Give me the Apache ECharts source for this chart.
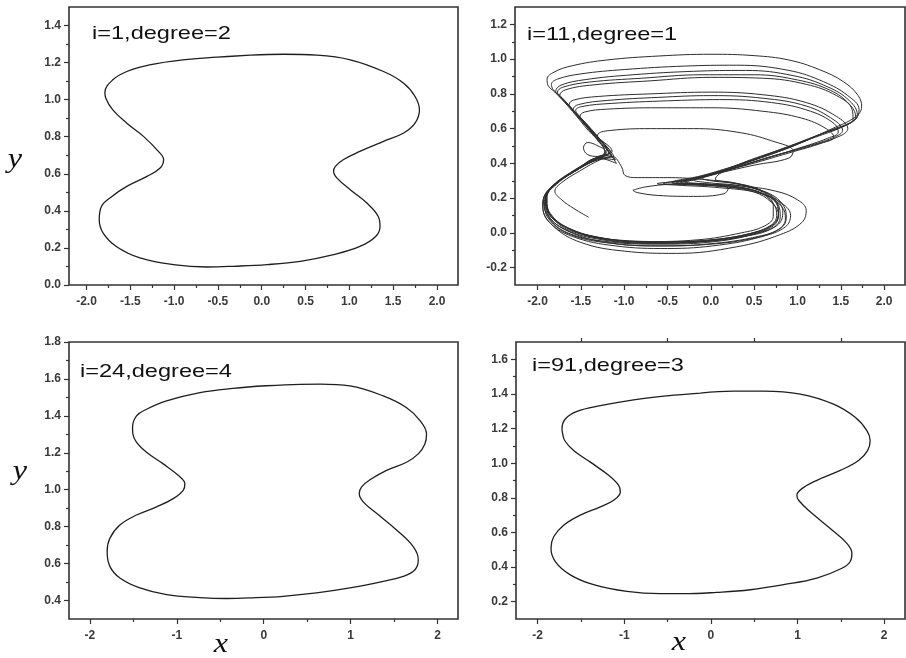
<!DOCTYPE html>
<html>
<head>
<meta charset="utf-8">
<script src="https://cdn.jsdelivr.net/npm/echarts@6/dist/echarts.min.js"></script>
<style>
  html, body { margin: 0; padding: 0; background: #fff; }
  #chart { width: 906px; height: 658px; }
</style>
</head>
<body>
<div id="chart"></div>
<script>
// Phase portraits (x, y) for four runs.

// i=1, degree=2 : closed orbit
const loopI1 = [
  [-0.13,1.240],[0.25,1.245],[0.63,1.240],[1.01,1.215],[1.39,1.152],[1.62,1.089],[1.75,1.017],[1.80,0.945],
  [1.75,0.873],[1.62,0.820],[1.39,0.775],[1.12,0.721],[0.93,0.676],[0.84,0.640],[0.82,0.613],[0.86,0.577],
  [1.01,0.514],[1.20,0.442],[1.33,0.370],[1.35,0.316],[1.30,0.262],[1.12,0.208],[0.82,0.164],[0.44,0.128],
  [0.06,0.110],[-0.32,0.101],[-0.63,0.097],[-1.01,0.110],[-1.39,0.146],[-1.66,0.208],[-1.81,0.280],[-1.855,0.352],
  [-1.83,0.424],[-1.71,0.478],[-1.54,0.532],[-1.31,0.586],[-1.16,0.631],[-1.12,0.676],[-1.18,0.721],[-1.35,0.802],
  [-1.54,0.873],[-1.70,0.945],[-1.78,1.008],[-1.79,1.040],[-1.70,1.107],[-1.54,1.152],[-1.28,1.188],[-0.90,1.215],
  [-0.51,1.229],[-0.13,1.240]
];

// i=11, degree=1 : irregular trajectory
const orbitI11 = [
  [-1.41,0.09],[-1.58,0.14],[-1.72,0.19],[-1.80,0.24],[-1.72,0.29],[-1.50,0.36],[-1.28,0.42],[-1.14,0.44],
  [-1.03,0.38],[-0.99,0.33],[-0.85,0.318],[-0.50,0.318],[-0.15,0.31],[0.20,0.29],[0.50,0.255],[0.70,0.20],
  [0.78,0.13],[0.74,0.06],[0.55,0.01],[0.10,-0.035],[-0.50,-0.05],[-1.10,-0.04],[-1.55,0.00],[-1.82,0.08],
  [-1.90,0.18],[-1.82,0.27],[-1.55,0.36],[-1.30,0.43],[-1.17,0.46],
  [-1.24,0.50],[-1.31,0.54],[-1.30,0.57],[-1.15,0.59],[-0.70,0.60],[-0.20,0.60],[0.30,0.58],[0.70,0.53],[0.95,0.47],
  [0.90,0.43],[0.50,0.39],[0.10,0.345],[-0.25,0.305],[-0.45,0.29],[-0.20,0.283],[0.20,0.27],[0.55,0.235],
  [0.72,0.17],[0.76,0.10],[0.68,0.04],[0.40,-0.01],[-0.10,-0.045],[-0.70,-0.055],[-1.25,-0.03],[-1.65,0.03],
  [-1.85,0.11],[-1.90,0.20],[-1.78,0.28],[-1.52,0.37],[-1.28,0.44],[-1.14,0.47],
  [-1.30,0.55],[-1.46,0.64],[-1.51,0.67],[-1.46,0.695],[-1.20,0.712],[-0.60,0.72],[0.00,0.72],[0.60,0.70],[1.05,0.66],
  [1.33,0.60],[1.42,0.55],[1.30,0.52],[0.90,0.46],[0.45,0.395],[0.05,0.345],[-0.30,0.305],[-0.55,0.285],
  [-0.30,0.278],[0.15,0.265],[0.50,0.235],[0.70,0.175],[0.78,0.105],[0.72,0.04],[0.45,-0.01],[-0.05,-0.05],
  [-0.65,-0.06],[-1.20,-0.04],[-1.62,0.02],[-1.86,0.11],[-1.91,0.20],[-1.80,0.28],[-1.55,0.36],[-1.32,0.43],
  [-1.12,0.44],
  [-1.30,0.55],[-1.48,0.64],[-1.60,0.71],[-1.635,0.74],[-1.58,0.765],[-1.30,0.785],[-0.70,0.80],[0.00,0.81],[0.60,0.795],
  [1.10,0.75],[1.45,0.67],[1.58,0.60],[1.50,0.56],[1.15,0.50],[0.70,0.44],[0.20,0.36],[-0.15,0.31],
  [-0.30,0.293],[-0.10,0.283],[0.30,0.265],[0.62,0.22],[0.82,0.15],[0.86,0.08],[0.78,0.02],[0.50,-0.03],
  [0.00,-0.065],[-0.60,-0.075],[-1.20,-0.055],[-1.65,0.01],[-1.88,0.10],[-1.93,0.19],[-1.83,0.27],[-1.58,0.36],
  [-1.33,0.43],[-1.22,0.46],
  [-1.45,0.61],[-1.65,0.73],[-1.80,0.81],[-1.88,0.85],[-1.89,0.885],[-1.81,0.925],[-1.60,0.962],[-1.20,0.995],[-0.60,1.018],
  [0.00,1.028],[0.50,1.02],[0.90,0.995],[1.25,0.94],[1.53,0.87],[1.70,0.79],[1.74,0.725],[1.66,0.665],
  [1.40,0.60],[0.95,0.50],[0.50,0.42],[0.10,0.35],[-0.20,0.305],[-0.35,0.29],[-0.10,0.283],[0.35,0.27],
  [0.75,0.24],[1.00,0.19],[1.10,0.13],[1.05,0.06],[0.80,-0.01],[0.30,-0.08],[-0.40,-0.118],[-1.00,-0.105],
  [-1.50,-0.055],[-1.82,0.04],[-1.94,0.15],[-1.90,0.23],[-1.72,0.31],[-1.45,0.39],[-1.22,0.46],
  [-1.35,0.56],[-1.55,0.68],[-1.74,0.785],[-1.82,0.825],[-1.84,0.855],[-1.77,0.885],[-1.50,0.915],[-1.00,0.94],[-0.30,0.96],
  [0.30,0.965],[0.90,0.935],[1.30,0.87],[1.58,0.79],[1.71,0.71],[1.66,0.65],[1.35,0.585],[0.90,0.49],
  [0.45,0.41],[0.05,0.345],[-0.35,0.30],[-0.62,0.283],[-0.40,0.275],[0.10,0.26],[0.55,0.23],[0.82,0.17],
  [0.92,0.10],[0.86,0.035],[0.60,-0.02],[0.10,-0.07],[-0.50,-0.09],[-1.10,-0.075],[-1.60,-0.02],[-1.88,0.07],
  [-1.94,0.17],[-1.86,0.25],[-1.62,0.34],[-1.37,0.41],[-1.15,0.45],
  [-1.40,0.59],[-1.60,0.71],[-1.74,0.785],[-1.79,0.815],[-1.73,0.85],[-1.45,0.882],[-0.90,0.91],[-0.20,0.93],[0.40,0.935],
  [0.95,0.905],[1.35,0.84],[1.60,0.76],[1.69,0.68],[1.62,0.635],[1.30,0.575],[0.85,0.485],[0.40,0.405],
  [0.00,0.34],[-0.20,0.305],[-0.05,0.29],[0.35,0.27],[0.68,0.225],[0.84,0.155],[0.87,0.085],[0.80,0.025],
  [0.55,-0.02],[0.05,-0.06],[-0.55,-0.075],[-1.15,-0.06],[-1.62,-0.01],[-1.87,0.08],[-1.92,0.18],[-1.84,0.26],
  [-1.60,0.35],[-1.35,0.42],[-1.20,0.47],
  [-1.40,0.60],[-1.60,0.715],[-1.72,0.78],[-1.77,0.81],[-1.71,0.838],[-1.40,0.868],[-0.80,0.89],[-0.10,0.91],[0.50,0.91],
  [1.00,0.88],[1.38,0.82],[1.60,0.74],[1.67,0.67],[1.58,0.625],[1.25,0.565],[0.80,0.48],[0.35,0.40],
  [0.10,0.34],[0.05,0.31],[0.25,0.29],[0.55,0.25],[0.76,0.19],[0.83,0.12],[0.78,0.05],[0.55,0.00],
  [0.05,-0.05],[-0.60,-0.065],[-1.20,-0.05],[-1.65,0.00],[-1.87,0.09],[-1.91,0.19],[-1.81,0.27],[-1.56,0.36],
  [-1.30,0.43],[-1.10,0.42],
  [-1.30,0.54],[-1.50,0.65],[-1.69,0.76],[-1.745,0.79],[-1.68,0.823],[-1.35,0.852],[-0.70,0.875],[0.00,0.895],[0.60,0.89],
  [1.10,0.855],[1.45,0.79],[1.63,0.71],[1.64,0.655],[1.52,0.61],[1.20,0.55],[0.75,0.47],[0.30,0.39],
  [-0.10,0.33],[-0.45,0.29],[-0.25,0.28],[0.20,0.265],[0.58,0.23],[0.78,0.16],[0.80,0.09],[0.72,0.03],
  [0.45,-0.015],[-0.10,-0.05],[-0.70,-0.06],[-1.25,-0.04],[-1.68,0.02],[-1.88,0.11],[-1.90,0.20],[-1.79,0.28],
  [-1.54,0.37],[-1.30,0.44],[-1.18,0.46],
  [-1.35,0.57],[-1.55,0.685],[-1.59,0.71],[-1.53,0.738],[-1.20,0.762],[-0.60,0.78],[0.00,0.79],[0.60,0.775],[1.10,0.73],
  [1.42,0.65],[1.52,0.59],[1.42,0.55],[1.05,0.49],[0.60,0.425],[0.15,0.355],[-0.10,0.315],[0.00,0.30],
  [0.35,0.28],[0.62,0.235],[0.76,0.17],[0.78,0.10],[0.70,0.04],[0.45,-0.005],[-0.05,-0.045],[-0.65,-0.055],
  [-1.20,-0.035],[-1.62,0.02],[-1.86,0.11],[-1.90,0.20],[-1.80,0.28],[-1.55,0.36],[-1.30,0.43],[-1.09,0.40],
  [-1.25,0.52],[-1.42,0.62],[-1.53,0.68],[-1.56,0.705],[-1.49,0.727],[-1.15,0.745],[-0.50,0.76],[0.10,0.767],[0.70,0.75],
  [1.15,0.70],[1.42,0.63],[1.47,0.58],[1.35,0.545],[1.00,0.485],[0.55,0.415],[0.10,0.35],[-0.25,0.305],
  [-0.40,0.29],[-0.15,0.282],[0.30,0.265],[0.60,0.225],[0.72,0.16],[0.72,0.095],[0.62,0.04],[0.35,0.00],
  [-0.15,-0.04],[-0.75,-0.05],[-1.30,-0.025],[-1.70,0.04],[-1.88,0.13],[-1.89,0.21],[-1.77,0.29],[-1.52,0.37],
  [-1.30,0.43],[-1.22,0.47],[-1.30,0.50],[-1.42,0.52],[-1.47,0.49],[-1.42,0.45],[-1.30,0.44],[-1.15,0.45]
];

// i=11 : small loop near the centre
const orbitI11Core = [
  [-0.90,0.245],[-0.75,0.265],[-0.40,0.28],[0.00,0.275],[0.20,0.255],[0.15,0.225],[-0.20,0.21],[-0.60,0.215],
  [-0.85,0.232],[-0.90,0.245]
];

// i=24, degree=4 : closed orbit
const loopI24 = [
  [0.03,1.563],[0.42,1.571],[0.65,1.572],[0.99,1.562],[1.375,1.508],[1.64,1.445],[1.80,1.373],[1.873,1.302],
  [1.854,1.248],[1.778,1.194],[1.643,1.149],[1.413,1.105],[1.222,1.054],[1.126,1.015],[1.099,0.979],[1.145,0.934],
  [1.298,0.872],[1.528,0.782],[1.72,0.692],[1.778,0.621],[1.74,0.567],[1.605,0.531],[1.375,0.504],[0.991,0.468],
  [0.608,0.441],[0.224,0.423],[-0.159,0.414],[-0.428,0.411],[-0.734,0.416],[-1.118,0.432],[-1.425,0.468],[-1.655,0.522],
  [-1.77,0.585],[-1.801,0.665],[-1.77,0.737],[-1.655,0.809],[-1.463,0.863],[-1.233,0.907],[-1.041,0.952],[-0.926,0.997],
  [-0.907,1.033],[-0.984,1.078],[-1.156,1.14],[-1.348,1.203],[-1.463,1.257],[-1.505,1.302],[-1.509,1.338],[-1.463,1.40],
  [-1.348,1.436],[-1.118,1.481],[-0.734,1.526],[-0.351,1.549],[0.03,1.563]
];

// i=91, degree=3 : closed orbit
const loopI91 = [
  [-0.123,1.405],[0.262,1.416],[0.608,1.416],[1.031,1.399],[1.415,1.341],[1.665,1.265],[1.80,1.188],[1.838,1.131],
  [1.808,1.073],[1.704,1.016],[1.492,0.958],[1.223,0.901],[1.05,0.853],[0.992,0.815],[1.012,0.786],[1.146,0.719],
  [1.377,0.623],[1.569,0.537],[1.627,0.48],[1.608,0.432],[1.512,0.393],[1.223,0.336],[0.838,0.298],[0.454,0.269],
  [0.069,0.254],[-0.315,0.246],[-0.585,0.246],[-0.969,0.259],[-1.354,0.298],[-1.623,0.355],[-1.796,0.432],[-1.846,0.508],
  [-1.815,0.575],[-1.70,0.642],[-1.508,0.70],[-1.277,0.748],[-1.123,0.786],[-1.046,0.834],[-1.065,0.872],[-1.181,0.93],
  [-1.392,1.006],[-1.585,1.073],[-1.688,1.131],[-1.715,1.179],[-1.719,1.198],[-1.681,1.255],[-1.546,1.299],[-1.277,1.332],
  [-0.892,1.366],[-0.508,1.389],[-0.123,1.405]
];

const panelTitles = ['i=1,degree=2', 'i=11,degree=1', 'i=24,degree=4', 'i=91,degree=3'];

// tick values
const xTicksHalf = [-2.0,-1.5,-1.0,-0.5,0.0,0.5,1.0,1.5,2.0];
const xMinorHalf = [-1.75,-1.25,-0.75,-0.25,0.25,0.75,1.25,1.75];
const xTicksUnit = [-2,-1,0,1,2];
const xMinorUnit = [-1.5,-0.5,0.5,1.5];
const yTicksA = [0.0,0.2,0.4,0.6,0.8,1.0,1.2,1.4];
const yMinorA = [0.1,0.3,0.5,0.7,0.9,1.1,1.3];
const yTicksB = [-0.2,0.0,0.2,0.4,0.6,0.8,1.0,1.2];
const yMinorB = [-0.1,0.1,0.3,0.5,0.7,0.9,1.1];
const yTicksC = [0.4,0.6,0.8,1.0,1.2,1.4,1.6,1.8];
const yMinorC = [0.5,0.7,0.9,1.1,1.3,1.5,1.7];
const yTicksD = [0.2,0.4,0.6,0.8,1.0,1.2,1.4,1.6];
const yMinorD = [0.3,0.5,0.7,0.9,1.1,1.3,1.5];

const panels = [
  { grid: { left: 69,  top: 7,   width: 389, height: 278 }, xr: [-2.2, 2.24],  yr: [0, 1.5],
    xt: xTicksHalf, xm: xMinorHalf, xd: 1, yt: yTicksA, ym: yMinorA },
  { grid: { left: 515, top: 7,   width: 390, height: 278 }, xr: [-2.26, 2.24], yr: [-0.3, 1.3],
    xt: xTicksHalf, xm: xMinorHalf, xd: 1, yt: yTicksB, ym: yMinorB },
  { grid: { left: 69,  top: 342, width: 389, height: 277 }, xr: [-2.24, 2.235], yr: [0.3, 1.8],
    xt: xTicksUnit, xm: xMinorUnit, xd: 0, yt: yTicksC, ym: yMinorC },
  { grid: { left: 516, top: 342, width: 389, height: 277 }, xr: [-2.25, 2.24], yr: [0.1, 1.7],
    xt: xTicksUnit, xm: xMinorUnit, xd: 0, yt: yTicksD, ym: yMinorD }
];

const axisColor = '#333';
const labelStyle = { fontFamily: '"Liberation Sans", Arial, sans-serif', fontSize: 12, fontWeight: 'bold', color: '#3a3a3a' };

const grids = [], xAxes = [], yAxes = [];
panels.forEach((p, i) => {
  grids.push(Object.assign({ show: true, borderColor: axisColor, borderWidth: 1.6, backgroundColor: 'transparent' }, p.grid));
  const baseX = { type: 'value', gridIndex: i, min: p.xr[0], max: p.xr[1], position: 'bottom',
    axisLine: { show: false, onZero: false }, splitLine: { show: false } };
  const baseY = { type: 'value', gridIndex: i, min: p.yr[0], max: p.yr[1], position: 'left',
    axisLine: { show: false, onZero: false }, splitLine: { show: false } };
  xAxes.push(Object.assign({}, baseX, {
    axisTick: { show: true, length: 5, customValues: p.xt, lineStyle: { color: axisColor, width: 1.2 } },
    axisLabel: Object.assign({ show: true, margin: 11, customValues: p.xt,
      formatter: v => Number(v).toFixed(p.xd) }, labelStyle)
  }));
  xAxes.push(Object.assign({}, baseX, {
    axisTick: { show: true, length: 3, customValues: p.xm, lineStyle: { color: axisColor, width: 1.2 } },
    axisLabel: { show: false }
  }));
  yAxes.push(Object.assign({}, baseY, {
    axisTick: { show: true, length: 5, customValues: p.yt, lineStyle: { color: axisColor, width: 1.2 } },
    axisLabel: Object.assign({ show: true, margin: 8, customValues: p.yt,
      formatter: v => Number(v).toFixed(1) }, labelStyle)
  }));
  yAxes.push(Object.assign({}, baseY, {
    axisTick: { show: true, length: 3, customValues: p.ym, lineStyle: { color: axisColor, width: 1.2 } },
    axisLabel: { show: false }
  }));
});
// upper tick marks on the last panel
xAxes.push({ type: 'value', gridIndex: 3, min: panels[3].xr[0], max: panels[3].xr[1], position: 'top',
  axisLine: { show: false, onZero: false }, splitLine: { show: false }, axisLabel: { show: false },
  axisTick: { show: true, length: 4, customValues: xMinorUnit, lineStyle: { color: axisColor, width: 1.2 } } });

function curve(data, gi, color, width) {
  return { type: 'line', data: data, xAxisIndex: gi * 2, yAxisIndex: gi * 2,
    showSymbol: false, symbol: 'none', smooth: 0.4, silent: true,
    lineStyle: { color: color, width: width } };
}

const series = [
  curve(loopI1, 0, '#1e1e1e', 1.3),
  curve(orbitI11, 1, '#2e2e2e', 1.0),
  curve(orbitI11Core, 1, '#2e2e2e', 1.0),
  curve(loopI24, 2, '#1e1e1e', 1.3),
  curve(loopI91, 3, '#1e1e1e', 1.3)
];

function title(text, x, y) {
  return { type: 'text', x: x, y: y, scaleX: 1.24, silent: true,
    style: { text: text, font: '19px "Liberation Sans", Arial, sans-serif', fill: '#111',
      align: 'left', verticalAlign: 'middle', textAlign: 'left', textVerticalAlign: 'middle' } };
}
function varLabel(text, x, y) {
  return { type: 'text', x: x, y: y, scaleX: 1.15, silent: true,
    style: { text: text, font: 'italic 28px "Liberation Serif", "Times New Roman", serif', fill: '#111',
      align: 'center', verticalAlign: 'middle', textAlign: 'center', textVerticalAlign: 'middle' } };
}

const graphic = [
  title(panelTitles[0], 92, 34),
  title(panelTitles[1], 527, 35),
  title(panelTitles[2], 80, 372),
  title(panelTitles[3], 532, 366),
  varLabel('y', 15, 160),
  varLabel('y', 20, 472),
  varLabel('x', 221, 645),
  varLabel('x', 679, 643)
];

const chart = echarts.init(document.getElementById('chart'), null, { renderer: 'canvas' });
chart.setOption({
  animation: false,
  backgroundColor: '#fff',
  grid: grids,
  xAxis: xAxes,
  yAxis: yAxes,
  series: series,
  graphic: graphic
});
</script>
</body>
</html>
